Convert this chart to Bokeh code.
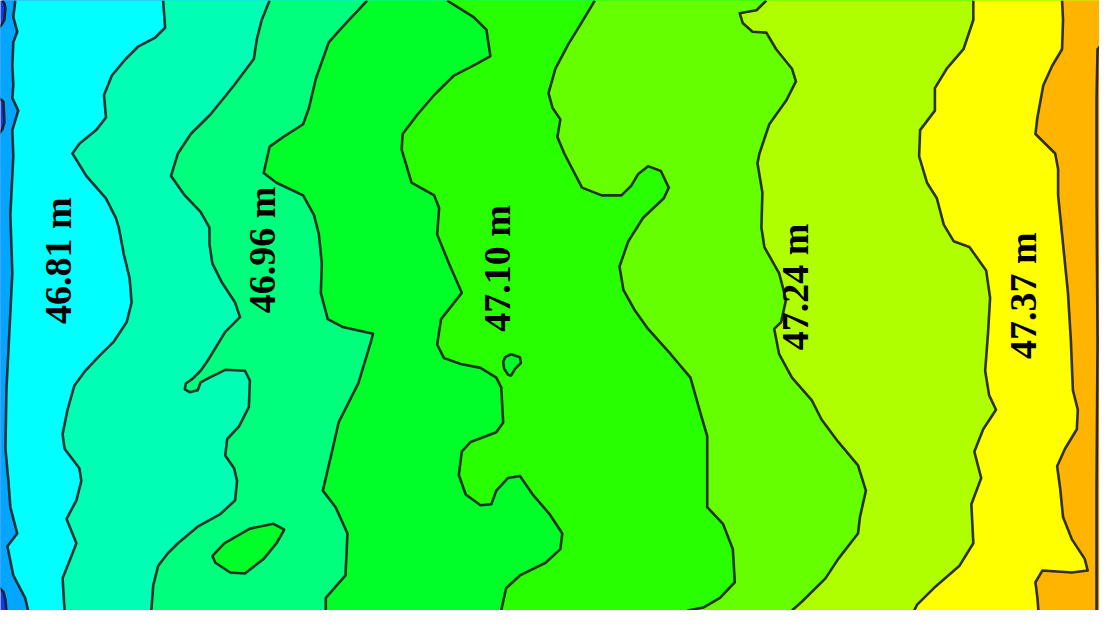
import math
from bokeh.plotting import figure
from bokeh.models import Range1d
from bokeh.core.properties import value
from bokeh.embed import file_html
from bokeh.resources import INLINE

# ---- contour lines (x, y in image units; y grows downward) ----
line_A_x = [2, 4, 5, 4, 1, -4, -4, 3, 4, 2, -4, -4, 3, 5, 6]
line_A_y = [0, 3, 8, 20, 25, 30, 98, 104, 125, 132, 140, 600, 607, 615, 626]

line_B_x = [15, 13, 17, 13, 12, 13, 12, 18, 12, 13, 10, 12, 9, 6, 5, 8, 10, 17, 7, 13, 25, 28]
line_B_y = [0, 17, 32, 43, 67, 87, 100, 113, 133, 160, 220, 280, 340, 400, 460, 493, 520, 547, 560, 590, 613, 626]

line_C_x = [165, 167, 157, 140, 127, 113, 105, 107, 97, 80, 73, 87, 107, 117, 120, 125, 131, 133, 128, 115,
            100, 86, 75, 68, 63, 65, 80, 82, 77, 67, 77, 72, 63, 65]
line_C_y = [0, 28, 38, 47, 60, 77, 97, 120, 133, 147, 157, 180, 203, 223, 233, 260, 285, 310, 330, 350,
            365, 380, 395, 420, 445, 460, 480, 493, 513, 532, 557, 570, 593, 626]

line_D_x = [273, 265, 260, 257, 237, 213, 193, 180, 173, 187, 203, 212, 212, 215, 225, 238, 243, 228, 210,
            203, 195, 188, 187, 192, 200, 203, 212, 228, 248, 253, 252, 242, 230, 228, 237, 240, 238, 223,
            200, 180, 170, 160, 155, 153]
line_D_y = [0, 20, 40, 60, 87, 117, 137, 157, 180, 200, 217, 233, 250, 270, 290, 310, 325, 340, 370,
            380, 388, 393, 399, 402, 400, 392, 387, 379, 380, 390, 417, 437, 450, 467, 480, 493, 513, 527,
            540, 557, 567, 580, 600, 626]

line_E_x = [372, 347, 333, 320, 313, 307, 287, 273, 267, 280, 307, 318, 323, 326, 325, 332, 347, 378,
            375, 363, 343, 337, 327, 340, 352, 350, 330, 330]
line_E_y = [0, 27, 43, 80, 110, 127, 140, 150, 177, 187, 200, 220, 240, 270, 300, 327, 335, 342,
            353, 393, 433, 460, 503, 520, 547, 590, 613, 626]

line_F_x = [453, 480, 493, 497, 483, 460, 440, 423, 408, 407, 417, 440, 445, 443, 455, 468, 447, 443,
            450, 467, 487, 503, 508, 510, 503, 477, 468, 465, 472, 487, 498, 503, 515, 527, 540, 557,
            570, 568, 553, 527, 513, 508]
line_F_y = [0, 17, 30, 57, 65, 77, 97, 117, 137, 153, 187, 200, 213, 240, 270, 300, 327, 353,
            367, 373, 377, 387, 397, 433, 443, 453, 463, 487, 507, 518, 517, 503, 490, 488, 507, 527,
            547, 563, 577, 590, 603, 626]

line_G_x = [603, 590, 576, 563, 556, 560, 568, 565, 572, 590, 610, 630, 640, 647, 657, 670, 678, 673,
            652, 637, 628, 632, 643, 657, 680, 700, 710, 717, 717, 733, 743, 745, 730, 713, 697]
line_G_y = [0, 22, 45, 70, 95, 110, 122, 140, 157, 192, 200, 200, 190, 178, 170, 175, 192, 203,
            223, 247, 273, 297, 317, 337, 363, 387, 423, 447, 520, 537, 563, 597, 613, 623, 626]

line_H_x = [777, 767, 750, 753, 763, 777, 787, 803, 807, 797, 780, 770, 768, 773, 772, 775, 790, 797,
            792, 785, 790, 803, 823, 833, 850, 870, 878, 872, 870, 850, 837, 813, 803]
line_H_y = [0, 10, 13, 23, 32, 33, 50, 70, 83, 103, 127, 157, 167, 197, 233, 253, 280, 307,
            330, 337, 363, 387, 410, 430, 453, 477, 503, 530, 547, 573, 593, 617, 626]

line_I_x = [987, 987, 977, 960, 948, 948, 933, 932, 940, 950, 957, 967, 983, 1000, 1004, 1002, 999,
            1003, 1010, 997, 988, 995, 985, 987, 973, 947, 930, 927]
line_I_y = [0, 20, 50, 70, 90, 113, 133, 160, 187, 203, 230, 247, 253, 277, 305, 340, 380,
            405, 420, 440, 463, 490, 517, 557, 580, 603, 620, 626]

line_J_x = [1077, 1078, 1077, 1067, 1058, 1052, 1050, 1060, 1070, 1073, 1073, 1078, 1083, 1086, 1088,
            1093, 1092, 1080, 1072, 1075, 1078, 1087, 1100, 1103, 1087, 1057, 1050, 1052, 1053]
line_J_y = [0, 20, 50, 67, 87, 120, 137, 147, 157, 173, 200, 250, 300, 350, 400,
            420, 440, 460, 478, 500, 530, 553, 573, 585, 587, 585, 597, 613, 626]

line_K_x = [1122, 1122, 1113, 1112, 1112, 1113, 1112, 1112]
line_K_y = [0, 40, 50, 100, 200, 350, 500, 626]

island_1_x = [215, 227, 253, 277, 288, 280, 267, 248, 233, 218]
island_1_y = [570, 557, 542, 537, 543, 557, 573, 588, 587, 577]

island_2_x = [512, 518, 527, 528, 522, 518, 515, 511, 510]
island_2_y = [366, 363, 366, 372, 378, 385, 384, 378, 371]

# ---- band colours, left to right ----
band_colors = ["#0a3cf5", "#00a6ff", "#00ffff", "#00ffb4", "#00ff7c", "#00ff28",
               "#28ff00", "#66ff00", "#b0ff00", "#ffff00", "#ffb400", "#e08a00"]

# ---- labels ----
labels = ["46.81 m", "46.96 m", "47.10 m", "47.24 m", "47.37 m"]
label_x = [58, 265, 504, 806, 1037]
label_y = [267, 256, 275, 294, 303]

lines_x = [line_A_x, line_B_x, line_C_x, line_D_x, line_E_x, line_F_x,
           line_G_x, line_H_x, line_I_x, line_J_x, line_K_x]
lines_y = [line_A_y, line_B_y, line_C_y, line_D_y, line_E_y, line_F_y,
           line_G_y, line_H_y, line_I_y, line_J_y, line_K_y]

p = figure(width=1099, height=610, x_range=Range1d(0, 1115), y_range=Range1d(626, 0),
           output_backend="svg", toolbar_location=None, min_border=0)
p.axis.visible = False
p.grid.visible = False
p.outline_line_color = None
p.background_fill_color = band_colors[0]
p.border_fill_color = "white"

RIGHT = 1200
for k, (lx, ly) in enumerate(zip(lines_x, lines_y)):
    px = [lx[0]] + lx + [lx[-1], RIGHT, RIGHT]
    py = [-20] + ly + [646, 646, -20]
    p.patch(px, py, fill_color=band_colors[k + 1], line_color=None)

p.patches([island_1_x, island_2_x], [island_1_y, island_2_y],
          fill_color=band_colors[5], line_color="#1c1c1c", line_width=2.6, line_alpha=0.9)

p.multi_line(lines_x, lines_y, line_color="#1c1c1c", line_width=2.6, line_alpha=0.9,
             line_join="round")

p.text(x=label_x, y=label_y, text=labels, angle=math.pi / 2,
       text_align="center", text_baseline="middle",
       text_font=value("Liberation Serif"), text_font_style="bold",
       text_font_size="38px", text_color="black")

open("out.html", "w").write(file_html(p, INLINE))
